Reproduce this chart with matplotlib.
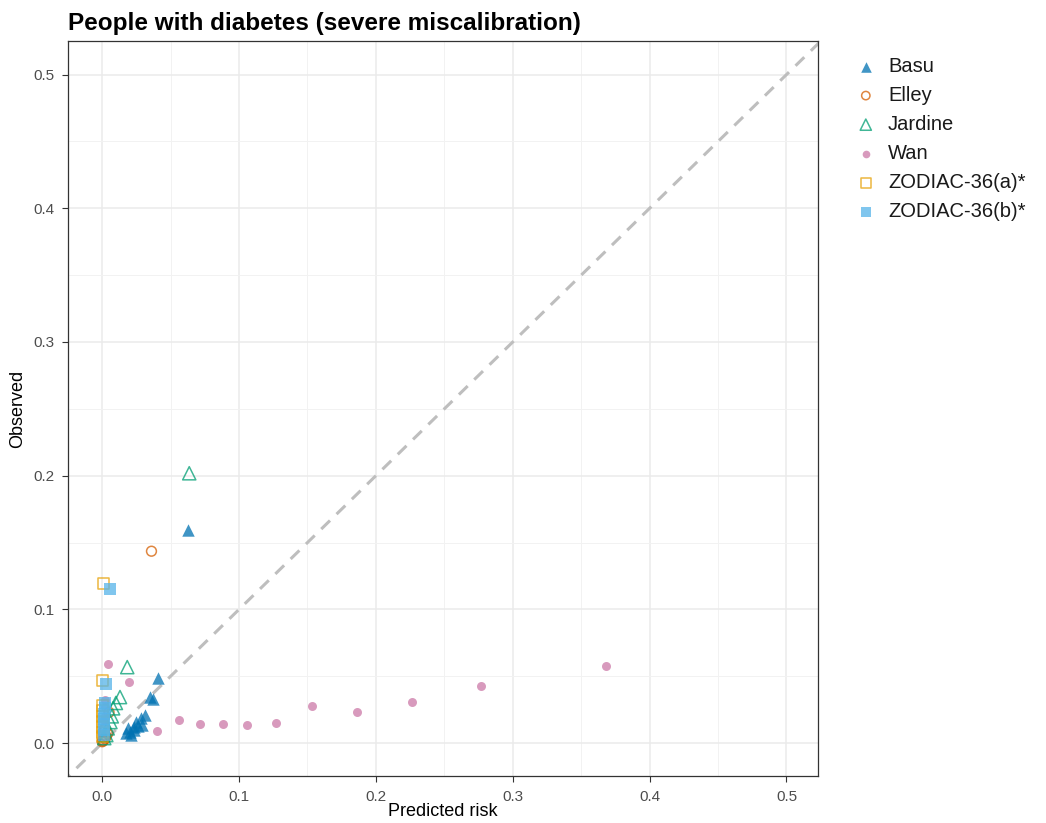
import numpy as np
import matplotlib.pyplot as plt

plt.rcParams['font.family'] = ['Liberation Sans', 'DejaVu Sans']

# predicted risk / observed for each model
basu_x = [0.063, 0.041, 0.035, 0.037, 0.031, 0.028, 0.025, 0.026, 0.023, 0.020, 0.0175, 0.021, 0.029, 0.0235, 0.019]
basu_y = [0.159, 0.0486, 0.0344, 0.033, 0.021, 0.0187, 0.0157, 0.0127, 0.012, 0.008, 0.0075, 0.006, 0.0135, 0.0097, 0.011]

elley_x = [0.036, 0.005, 0.002, 0.001, 0.0015, 0.0005, 0.0, 0.001, 0.002, 0.003, 0.001, 0.002, 0.004]
elley_y = [0.1435, 0.023, 0.011, 0.006, 0.004, 0.0015, 0.001, 0.002, 0.003, 0.005, 0.008, 0.010, 0.007]

jardine_x = [0.0636, 0.0183, 0.013, 0.010, 0.008, 0.007, 0.006, 0.004, 0.003, 0.0015]
jardine_y = [0.2018, 0.0568, 0.0344, 0.030, 0.026, 0.020, 0.0157, 0.011, 0.006, 0.0037]

wan_x = [0.0044, 0.0197, 0.040, 0.056, 0.0716, 0.088, 0.106, 0.127, 0.1535, 0.186, 0.226, 0.277, 0.368,
         0.002, 0.002, 0.001, 0.002]
wan_y = [0.059, 0.046, 0.009, 0.017, 0.014, 0.014, 0.0135, 0.015, 0.0277, 0.023, 0.0306, 0.0426, 0.0575,
         0.032, 0.027, 0.017, 0.020]

zod_a_x = [0.001, 0.0005, 0.0, 0.0, 0.0, 0.0, 0.0, 0.0, 0.0]
zod_a_y = [0.1196, 0.047, 0.028, 0.024, 0.020, 0.016, 0.012, 0.008, 0.005]

zod_b_x = [0.006, 0.003, 0.002, 0.002, 0.001, 0.001, 0.001, 0.001, 0.001]
zod_b_y = [0.115, 0.044, 0.030, 0.026, 0.022, 0.018, 0.014, 0.010, 0.006]

fig = plt.figure(figsize=(10.46, 8.23), dpi=100)
ax = fig.add_axes([0.065, 0.057, 0.717, 0.893])

ax.plot([-0.03, 0.53], [-0.03, 0.53], color='#BEBEBE', lw=2.2, ls=(0, (4, 3)), zorder=1)

a = 0.75
ax.scatter(basu_x, basu_y, marker='^', s=80, color='#0072B2', alpha=a, lw=0, label='Basu', zorder=3)
ax.scatter(elley_x, elley_y, marker='o', s=50, facecolors='none', edgecolors='#D55E00', alpha=a, lw=1.1, label='Elley', zorder=3)
ax.scatter(jardine_x, jardine_y, marker='^', s=90, facecolors='none', edgecolors='#009E73', alpha=a, lw=1.1, label='Jardine', zorder=3)
ax.scatter(wan_x, wan_y, marker='o', s=42, color='#CC79A7', alpha=a, lw=0, label='Wan', zorder=3)
ax.scatter(zod_a_x, zod_a_y, marker='s', s=65, facecolors='none', edgecolors='#E69F00', alpha=a, lw=1.1, label='ZODIAC-36(a)*', zorder=3)
ax.scatter(zod_b_x, zod_b_y, marker='s', s=65, color='#56B4E9', alpha=a, lw=0, label='ZODIAC-36(b)*', zorder=3)

ax.set_xlim(-0.025, 0.523)
ax.set_ylim(-0.0247, 0.525)
ticks = np.arange(0, 0.51, 0.1)
ax.set_xticks(ticks)
ax.set_yticks(ticks)
ax.set_xticks(np.arange(0.05, 0.51, 0.1), minor=True)
ax.set_yticks(np.arange(0.05, 0.51, 0.1), minor=True)
ax.set_xticklabels(['0.0', '0.1', '0.2', '0.3', '0.4', '0.5'])
ax.set_yticklabels(['0.0', '0.1', '0.2', '0.3', '0.4', '0.5'])
ax.grid(which='major', color='#EBEBEB', lw=1.1, zorder=0)
ax.grid(which='minor', color='#F2F2F2', lw=0.7, zorder=0)
ax.set_axisbelow(True)
ax.tick_params(which='major', length=4, color='#333333', labelcolor='#4D4D4D', labelsize=11, pad=6)
ax.tick_params(which='minor', length=0)
for sp in ax.spines.values():
    sp.set_color('#333333')
    sp.set_linewidth(0.9)

ax.set_xlabel('Predicted risk', fontsize=13, labelpad=-1)
ax.set_ylabel('Observed', fontsize=13, labelpad=5)
ax.set_title('People with diabetes (severe miscalibration)', fontsize=17.5, fontweight='bold',
             loc='left', x=0.0, pad=8)

fig.legend(loc='upper left', bbox_to_anchor=(0.795, 0.953), frameon=False, fontsize=14.5,
           handlelength=1.6, handletextpad=0.3, labelspacing=0.5, markerscale=0.85,
           labelcolor='#1A1A1A')

fig.savefig('out.png', dpi=100)
